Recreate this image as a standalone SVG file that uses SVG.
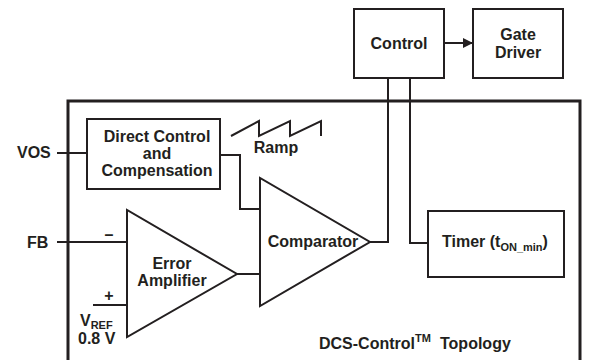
<svg xmlns="http://www.w3.org/2000/svg" width="589" height="360" viewBox="0 0 589 360">
<defs>
<style>
.b{fill:#fff;stroke:#231f20;stroke-width:2}
.l{fill:none;stroke:#231f20;stroke-width:2}
text{font-family:"Liberation Sans",Arial,sans-serif;font-weight:bold;font-size:16px;fill:#231f20}
.c{text-anchor:middle}
.s{font-size:11px}
</style>
<marker id="ah" markerWidth="10" markerHeight="10" refX="9" refY="5" orient="auto" markerUnits="userSpaceOnUse">
<path d="M0,0 L10,5 L0,10 Z" fill="#231f20"/>
</marker>
</defs>
<rect id="frame" x="68" y="101" width="512" height="270" fill="none" stroke="#231f20" stroke-width="3"/>
<g id="connectors">
<line class="l" x1="444" y1="43" x2="472" y2="43" marker-end="url(#ah)"/>
<line class="l" x1="57" y1="153" x2="87" y2="153"/>
<polyline class="l" points="220,155 240,155 240,209 260,209"/>
<line class="l" x1="57" y1="242" x2="127" y2="242"/>
<line class="l" x1="93" y1="305" x2="127" y2="305"/>
<line class="l" x1="237" y1="274" x2="260" y2="274"/>
<polyline class="l" points="370,242 388,242 388,78"/>
<polyline class="l" points="410,78 410,243 428,243"/>
</g>
<g id="control"><rect class="b" x="354" y="9" width="90" height="69"/><text class="c" x="399" y="49">Control</text></g>
<g id="gate-driver"><rect class="b" x="473" y="9" width="90" height="69"/><text class="c" x="518" y="40">Gate</text><text class="c" x="518" y="58">Driver</text></g>
<g id="direct-control"><rect class="b" x="87" y="119" width="133" height="70"/>
<text class="c" x="157" y="142">Direct Control</text><text class="c" x="157" y="159">and</text><text class="c" x="157" y="176">Compensation</text></g>
<g id="ramp"><polyline class="l" points="231,136 259,121 259,136 290,121 290,136 321,121 321,136"/><text class="c" x="276" y="153">Ramp</text></g>
<g id="comparator"><polygon class="b" points="260,178 260,306 370,242"/><text class="c" x="313" y="247">Comparator</text></g>
<g id="error-amplifier"><polygon class="b" points="127,210 127,337 237,274"/>
<text class="c" x="172" y="269">Error</text><text class="c" x="172" y="286">Amplifier</text>
<text class="c" x="109" y="240">–</text><text class="c" x="109" y="301">+</text></g>
<g id="timer"><rect class="b" x="428" y="211" width="136" height="66"/><text x="442" y="247">Timer (t<tspan class="s" dy="4">ON_min</tspan><tspan dy="-4">)</tspan></text></g>
<g id="labels">
<text x="17" y="158">VOS</text>
<text x="27" y="248">FB</text>
<text x="80" y="326">V<tspan class="s" dy="2.5">REF</tspan></text>
<text x="78" y="344">0.8 V</text>
<text x="319" y="349">DCS-Control<tspan class="s" dy="-7">TM</tspan><tspan dy="7" x="440">Topology</tspan></text>
</g>
</svg>
